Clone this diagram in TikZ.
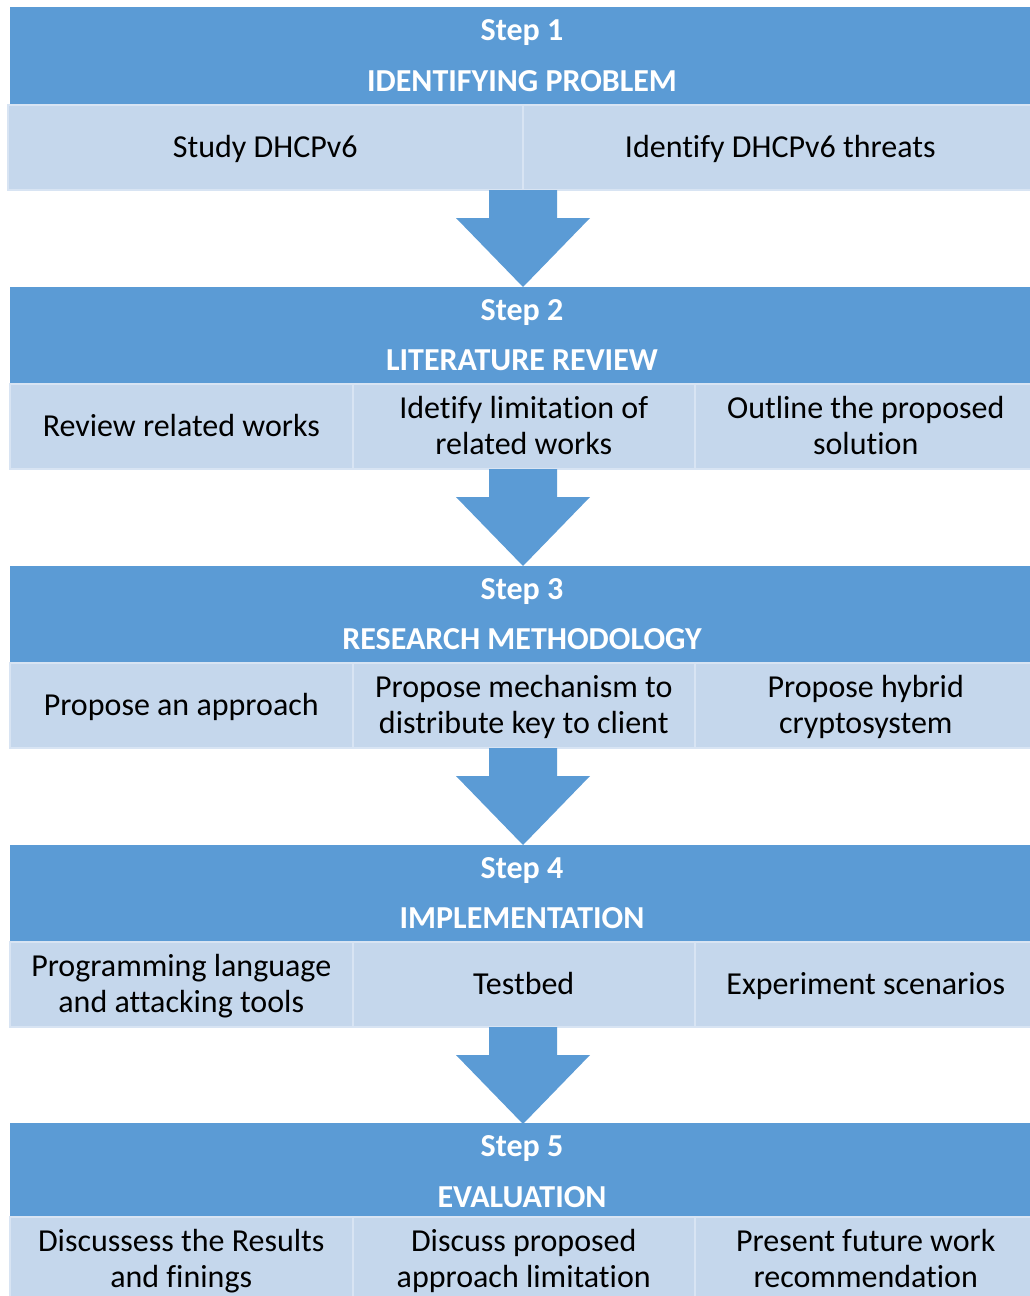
\documentclass[tikz,border=0pt]{standalone}
\usepackage{fontspec}
\setmainfont[Ligatures=NoCommon]{Carlito}
\definecolor{hdrblue}{HTML}{5B9BD5}
\definecolor{cellblue}{HTML}{C5D7EC}
\definecolor{cellline}{HTML}{D8E4F3}
\newcommand{\cs}{\strut}
\begin{document}
\begin{tikzpicture}[x=1pt,y=-1pt,
  hdrbox/.style={fill=hdrblue,draw=none,inner sep=0pt,anchor=north west},
  cellbox/.style={fill=cellblue,draw=cellline,line width=1.5pt,inner sep=0pt,anchor=north west},
  celltext/.style={font=\fontsize{32}{35.5}\selectfont,align=center,text=black,inner sep=0pt,yshift=-3pt},
  hdrtext/.style={font=\fontsize{32}{35}\selectfont\bfseries,text=white,inner sep=0pt,yshift=-1.5pt},
  blockarrow/.style={fill=hdrblue,draw=none}]
\useasboundingbox (0,0) rectangle (1029,1296);
\fill[white] (0,0) rectangle (1029,1296);

% ---------- Step 1 ----------
\node[hdrbox,minimum width=1025pt,minimum height=97pt] (h1) at (10,7) {};
\node[hdrtext] (s1) at (522,31) {Step 1};
\node[hdrtext] (t1) at (522,80) {IDENTIFYING PROBLEM};
\node[cellbox,minimum width=515pt,minimum height=85pt] (c11) at (7,104) {};
\node[cellbox,minimum width=515pt,minimum height=85pt] (c12) at (522,104) {};
\node[celltext] at (c11.center) {\cs Study DHCPv6\cs};
\node[celltext] at (c12.center) {\cs Identify DHCPv6 threats\cs};

% ---------- Step 2 ----------
\node[hdrbox,minimum width=1025pt,minimum height=96pt] (h2) at (10,287) {};
\node[hdrtext] (s2) at (522,311) {Step 2};
\node[hdrtext] (t2) at (522,359) {LITERATURE REVIEW};
\node[cellbox,minimum width=343pt,minimum height=85pt] (c21) at (9,383) {};
\node[cellbox,minimum width=342pt,minimum height=85pt] (c22) at (352,383) {};
\node[cellbox,minimum width=342pt,minimum height=85pt] (c23) at (694,383) {};
\node[celltext] at (c21.center) {\cs Review related works\cs};
\node[celltext] at (c22.center) {\cs Idetify limitation of\cs\\\cs related works\cs};
\node[celltext] at (c23.center) {\cs Outline the proposed\cs\\\cs solution\cs};

% ---------- Step 3 ----------
\node[hdrbox,minimum width=1025pt,minimum height=96pt] (h3) at (10,566) {};
\node[hdrtext] (s3) at (522,590) {Step 3};
\node[hdrtext] (t3) at (522,638) {RESEARCH METHODOLOGY};
\node[cellbox,minimum width=343pt,minimum height=85pt] (c31) at (9,662) {};
\node[cellbox,minimum width=342pt,minimum height=85pt] (c32) at (352,662) {};
\node[cellbox,minimum width=342pt,minimum height=85pt] (c33) at (694,662) {};
\node[celltext] at (c31.center) {\cs Propose an approach\cs};
\node[celltext] at (c32.center) {\cs Propose mechanism to\cs\\\cs distribute key to client\cs};
\node[celltext] at (c33.center) {\cs Propose hybrid\cs\\\cs cryptosystem\cs};

% ---------- Step 4 ----------
\node[hdrbox,minimum width=1025pt,minimum height=96pt] (h4) at (10,845) {};
\node[hdrtext] (s4) at (522,869) {Step 4};
\node[hdrtext] (t4) at (522,917) {IMPLEMENTATION};
\node[cellbox,minimum width=343pt,minimum height=85pt] (c41) at (9,941) {};
\node[cellbox,minimum width=342pt,minimum height=85pt] (c42) at (352,941) {};
\node[cellbox,minimum width=342pt,minimum height=85pt] (c43) at (694,941) {};
\node[celltext] at (c41.center) {\cs Programming language\cs\\\cs and attacking tools\cs};
\node[celltext] at (c42.center) {\cs Testbed\cs};
\node[celltext] at (c43.center) {\cs Experiment scenarios\cs};

% ---------- Step 5 ----------
\node[hdrbox,minimum width=1025pt,minimum height=93pt] (h5) at (10,1123) {};
\node[hdrtext] (s5) at (522,1147) {Step 5};
\node[hdrtext] (t5) at (522,1196) {EVALUATION};
\node[cellbox,minimum width=343pt,minimum height=85pt] (c51) at (9,1216) {};
\node[cellbox,minimum width=342pt,minimum height=85pt] (c52) at (352,1216) {};
\node[cellbox,minimum width=342pt,minimum height=85pt] (c53) at (694,1216) {};
\node[celltext] at (c51.center) {\cs Discussess the Results\cs\\\cs and finings\cs};
\node[celltext] at (c52.center) {\cs Discuss proposed\cs\\\cs approach limitation\cs};
\node[celltext] at (c53.center) {\cs Present future work\cs\\\cs recommendation\cs};

% ---------- block arrows ----------
\foreach \b in {190,469,748,1027}{
  \fill[blockarrow] (489,\b) -- (557,\b) -- (557,\b+28) -- (590,\b+28)
     -- (523,\b+97) -- (456,\b+28) -- (489,\b+28) -- cycle;
}
\end{tikzpicture}
\end{document}
